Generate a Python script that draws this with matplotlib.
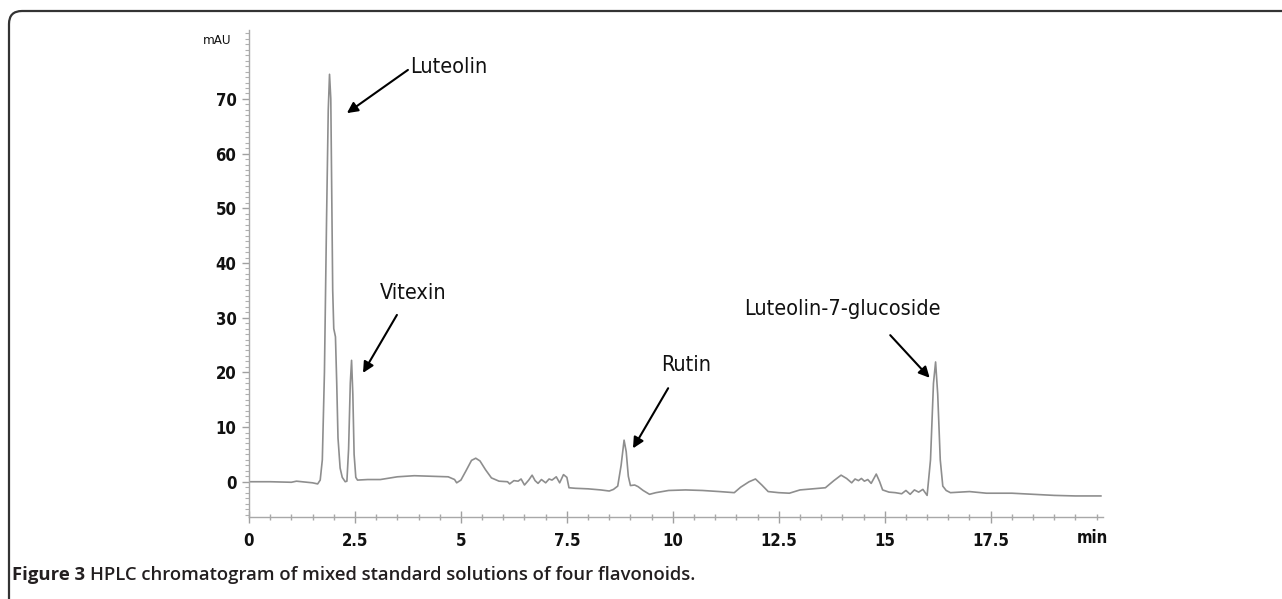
import matplotlib
matplotlib.use("Agg")
import matplotlib.pyplot as plt
from matplotlib import font_manager
from matplotlib.path import Path
from matplotlib.patches import PathPatch
from matplotlib.ticker import MultipleLocator

# retention time (min) and absorbance (mAU)
time_min = [0.0, 0.5, 1.0, 1.12, 1.5, 1.62, 1.68, 1.73, 1.78, 1.83, 1.87, 1.90,
            1.93, 1.955, 1.975, 2.00, 2.04, 2.07, 2.10, 2.15, 2.20, 2.27, 2.31,
            2.35, 2.39, 2.42, 2.45, 2.48, 2.52, 2.56, 2.8, 3.1, 3.5, 3.9, 4.3,
            4.7, 4.85, 4.9, 5.0, 5.12, 5.25, 5.35, 5.45, 5.58, 5.72, 5.9, 6.1,
            6.15, 6.25, 6.35, 6.42, 6.5, 6.6, 6.68, 6.75, 6.82, 6.9, 7.0, 7.08,
            7.15, 7.25, 7.33, 7.42, 7.5, 7.55, 7.7, 8.0, 8.3, 8.5, 8.6, 8.7,
            8.78, 8.85, 8.9, 8.95, 9.0, 9.1, 9.18, 9.3, 9.45, 9.6, 9.9, 10.3,
            10.7, 11.1, 11.45, 11.6, 11.8, 11.95, 12.1, 12.25, 12.5, 12.75,
            13.0, 13.3, 13.6, 13.8, 13.97, 14.1, 14.22, 14.3, 14.38, 14.45,
            14.52, 14.6, 14.68, 14.8, 14.88, 14.95, 15.1, 15.25, 15.4, 15.5,
            15.6, 15.7, 15.8, 15.9, 16.0, 16.08, 16.15, 16.2, 16.25, 16.31,
            16.37, 16.45, 16.55, 16.8, 17.0, 17.4, 18.0, 18.5, 19.0, 19.5, 20.1]
signal_mau = [0.0, 0.0, -0.1, 0.1, -0.2, -0.4, 0.3, 4, 20, 48, 68, 74.5,
              70, 50, 35, 28, 26.5, 18, 8, 2.5, 0.8, 0.0, 0.1,
              6, 18, 22.2, 16, 5, 0.8, 0.3, 0.4, 0.4, 0.9, 1.1, 1.0,
              0.9, 0.4, -0.2, 0.3, 2.0, 3.9, 4.3, 3.8, 2.2, 0.7, 0.1, 0.0,
              -0.4, 0.2, 0.1, 0.5, -0.6, 0.3, 1.2, 0.2, -0.3, 0.4, -0.2, 0.5,
              0.3, 0.9, -0.2, 1.3, 0.8, -1.1, -1.2, -1.3, -1.5, -1.7, -1.4, -0.8,
              3, 7.6, 5.5, 1.0, -0.7, -0.6, -0.9, -1.6, -2.3, -2.0, -1.6, -1.5,
              -1.6, -1.8, -2.0, -1.0, 0.0, 0.5, -0.6, -1.8, -2.0, -2.1,
              -1.5, -1.3, -1.1, 0.2, 1.2, 0.6, -0.2, 0.5, 0.2, 0.6,
              0.1, 0.4, -0.3, 1.4, 0.0, -1.5, -1.9, -2.0, -2.2, -1.6,
              -2.3, -1.5, -1.9, -1.4, -2.5, 4, 18, 21.9, 16, 4,
              -0.8, -1.6, -2.0, -1.9, -1.8, -2.1, -2.1, -2.3, -2.5, -2.6, -2.6]

# peak labels: name, text position, arrow tail, arrow head
labels = ["Luteolin", "Vitexin", "Rutin", "Luteolin-7-glucoside"]
text_xy = [(3.80, 75.8), (3.87, 34.5), (10.31, 21.3), (13.99, 31.5)]
text_ha = ["left", "center", "center", "center"]
tail_xy = [(3.75, 75.3), (3.49, 30.5), (9.89, 17.1), (15.13, 26.8)]
head_xy = [(2.31, 67.4), (2.69, 19.9), (9.06, 6.1), (16.06, 19.0)]

# pick a narrow sans if one is installed
installed = {(f.name, f.stretch) for f in font_manager.fontManager.ttflist}
names = {n for n, s in installed}
if "Liberation Sans Narrow" in names:
    narrow, stretch = ["Liberation Sans Narrow"], "normal"
elif ("DejaVu Sans", "condensed") in installed:
    narrow, stretch = ["DejaVu Sans"], "condensed"
else:
    narrow, stretch = ["Liberation Sans", "DejaVu Sans"], "normal"

fig = plt.figure(figsize=(12.82, 5.99), dpi=100)

# frame around the figure (top and left edge with rounded corner)
bg = fig.add_axes([0, 0, 1, 1], zorder=-5)
bg.set_xlim(0, 1282)
bg.set_ylim(599, 0)
bg.axis("off")
frame = Path([(9, 599), (9, 24), (9, 11), (22, 11), (1282, 11)],
             [Path.MOVETO, Path.LINETO, Path.CURVE3, Path.CURVE3, Path.LINETO])
bg.add_patch(PathPatch(frame, facecolor="none", edgecolor="#333333", lw=1.6))

ax = fig.add_axes([249 / 1282, 1 - 517 / 599, (1103 - 249) / 1282, (517 - 30) / 599])
ax.plot(time_min, signal_mau, color="#8e8e8e", lw=1.2)
ax.set_xlim(0, 20.15)
ax.set_ylim(-6.45, 82.6)
ax.set_facecolor("none")

for side in ["top", "right"]:
    ax.spines[side].set_visible(False)
for side in ["left", "bottom"]:
    ax.spines[side].set_color("#a8a8a8")
    ax.spines[side].set_linewidth(1.0)

ax.set_xticks([0, 2.5, 5, 7.5, 10, 12.5, 15, 17.5])
ax.set_xticklabels(["0", "2.5", "5", "7.5", "10", "12.5", "15", "17.5"])
ax.set_yticks([0, 10, 20, 30, 40, 50, 60, 70])
ax.xaxis.set_minor_locator(MultipleLocator(0.5))
ax.yaxis.set_minor_locator(MultipleLocator(1))
ax.tick_params(axis="x", which="major", direction="inout", length=8, width=1,
               color="#a0a0a0", pad=7)
ax.tick_params(axis="x", which="minor", direction="inout", length=5, width=1,
               color="#a8a8a8")
ax.tick_params(axis="y", which="major", direction="out", length=5, width=1,
               color="#a0a0a0", pad=4)
ax.tick_params(axis="y", which="minor", direction="out", length=3, width=0.8,
               color="#b0b0b0")
for lab in ax.get_xticklabels() + ax.get_yticklabels():
    lab.set_family(narrow)
    lab.set_stretch(stretch)
    lab.set_fontsize(12)
    lab.set_fontweight("bold")
    lab.set_color("#111111")

fig.text(217 / 1282, 1 - 40 / 599, "mAU", ha="center", va="center",
         family=narrow, stretch=stretch, fontsize=9.5, color="#111111")
fig.text(1092 / 1282, 1 - 538 / 599, "min", ha="center", va="center",
         family=narrow, stretch=stretch, fontsize=12, fontweight="bold",
         color="#111111")

for name, txy, ha, tail, head in zip(labels, text_xy, text_ha, tail_xy, head_xy):
    ax.text(txy[0], txy[1], name, ha=ha, va="center", family=narrow,
            stretch=stretch, fontsize=15.5, color="#111111")
    ax.annotate("", xy=head, xytext=tail,
                arrowprops=dict(arrowstyle="-|>", color="black", lw=1.5,
                                mutation_scale=16, shrinkA=0, shrinkB=0))

# caption
cap1 = fig.text(12 / 1282, 1 - 575 / 599, "Figure 3", ha="left", va="center",
                family=["Open Sans", "DejaVu Sans"], fontsize=13.3,
                fontweight="bold", color="#231f20")
fig.canvas.draw()
bb = cap1.get_window_extent()
fig.text((bb.x1 + 5) / 1282, 1 - 575 / 599,
         "HPLC chromatogram of mixed standard solutions of four flavonoids.",
         ha="left", va="center", family=["Open Sans", "DejaVu Sans"],
         fontsize=13.3, fontweight="semibold", color="#231f20")

fig.savefig("out.png", dpi=100)
